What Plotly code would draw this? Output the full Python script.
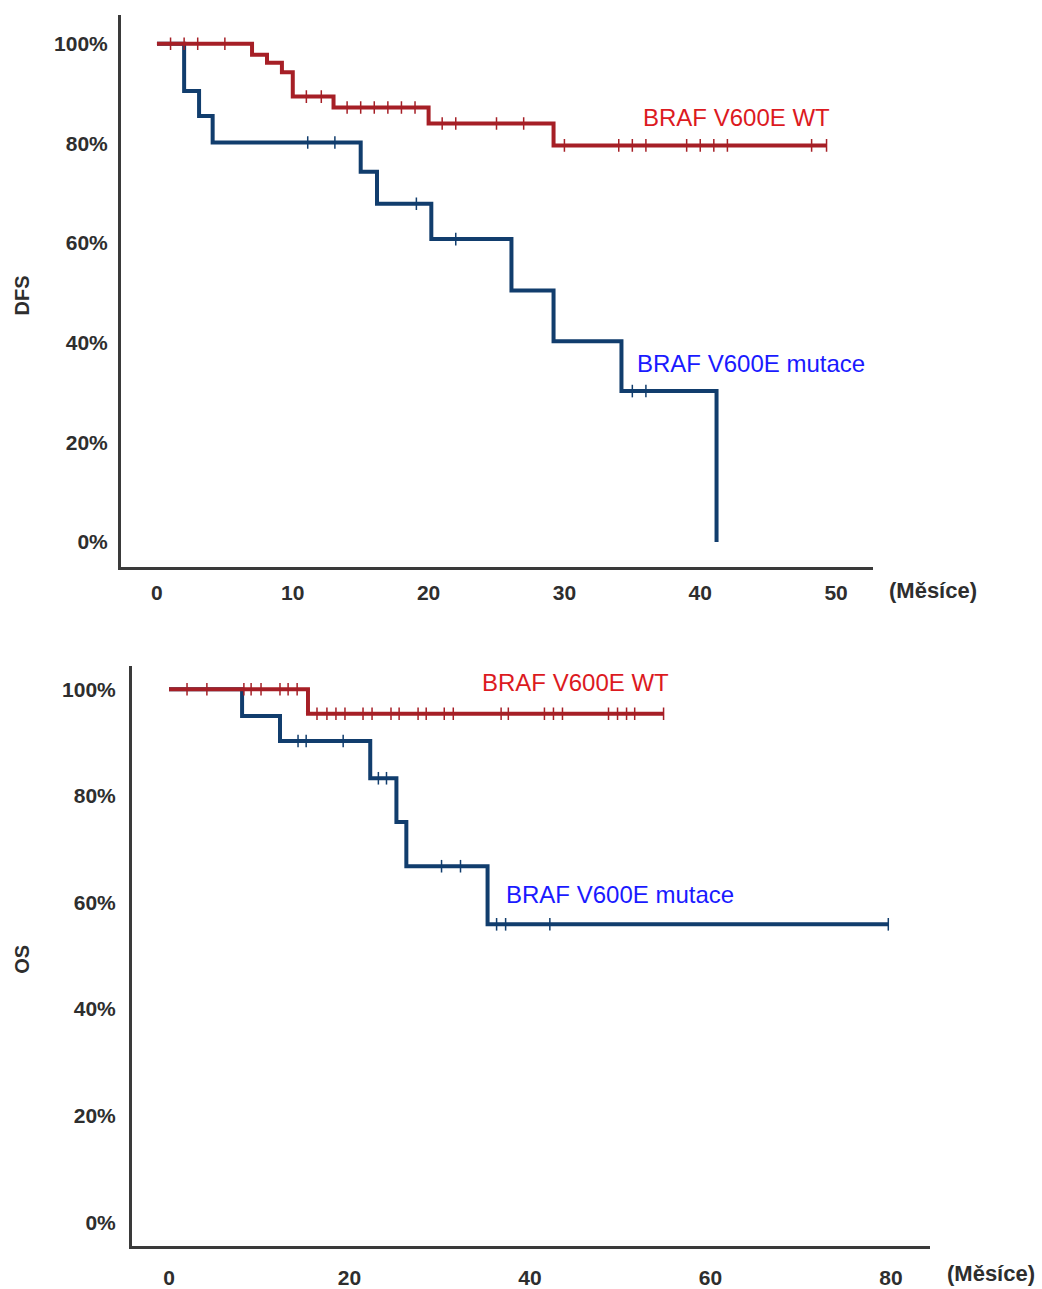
import plotly.graph_objects as go

# ---------------- DATA ----------------
# DFS (top panel)
wt_dfs_times = [0, 7.0, 8.1, 9.2, 10.0, 13.0, 20.0, 29.2, 49.3]
wt_dfs_surv = [100, 97.8, 96.2, 94.3, 89.4, 87.2, 84.0, 79.6, 79.6]
wt_dfs_censor = [1.0, 2.0, 3.0, 5.0, 11.0, 12.1, 14.0, 15.0, 16.0, 17.0, 18.0, 19.0,
                 21.0, 22.0, 25.0, 27.0, 30.0, 34.0, 35.0, 36.0, 39.0, 40.0, 41.0,
                 42.0, 48.2, 49.3]

mut_dfs_times = [0, 2.0, 3.1, 4.1, 15.0, 16.2, 20.2, 26.1, 29.2, 34.2, 41.2]
mut_dfs_surv = [100, 90.5, 85.5, 80.2, 74.3, 67.9, 60.8, 50.5, 40.3, 30.3, 0]
mut_dfs_censor = [11.1, 13.1, 19.1, 22.0, 35.0, 36.0]

# OS (bottom panel)
wt_os_times = [0, 15.4, 54.8]
wt_os_surv = [100, 95.4, 95.4]
wt_os_censor = [2.0, 4.2, 8.3, 9.1, 10.2, 12.3, 13.2, 14.2, 16.4, 17.5, 18.5, 19.5,
                21.5, 22.5, 24.6, 25.5, 27.6, 28.5, 30.5, 31.5, 36.8, 37.6, 41.6,
                42.6, 43.6, 48.7, 49.7, 50.7, 51.6, 54.8]

mut_os_times = [0, 8.1, 12.3, 22.3, 25.2, 26.3, 35.3, 79.7]
mut_os_surv = [100, 95.0, 90.3, 83.3, 75.1, 66.8, 55.9, 55.9]
mut_os_censor = [14.3, 15.2, 19.3, 23.2, 24.1, 30.2, 32.3, 36.3, 37.3, 42.2, 79.7]

dfs_xticks = [0, 10, 20, 30, 40, 50]
os_xticks = [0, 20, 40, 60, 80]
y_ticks = [0, 20, 40, 60, 80, 100]
y_ticklabels = ["0%", "20%", "40%", "60%", "80%", "100%"]

label_wt = "BRAF V600E WT"
label_mut = "BRAF V600E mutace"
x_unit = "(Měsíce)"

# ---------------- STYLE ----------------
RED = "#a61f26"
BLUE = "#113d6d"
RED_TXT = "#dc1a1f"
BLUE_TXT = "#1a1aff"
AX = "#3a3a3a"
TXT = "#2e2e2e"
FONT = "Liberation Sans, Arial, sans-serif"


def surv_at(times, surv, t):
    val = surv[0]
    for ti, si in zip(times, surv):
        if ti <= t:
            val = si
    return val


fig = go.Figure()


def add_curve(times, surv, censor, color, xa, ya):
    fig.add_trace(go.Scatter(x=times, y=surv, mode="lines", line=dict(color=color, width=4, shape="hv"),
                             xaxis=xa, yaxis=ya, showlegend=False, hoverinfo="skip"))
    fig.add_trace(go.Scatter(x=censor, y=[surv_at(times, surv, c) for c in censor], mode="markers",
                             marker=dict(symbol="line-ns-open", size=9, color=color,
                                         line=dict(color=color, width=1.5)),
                             xaxis=xa, yaxis=ya, showlegend=False, hoverinfo="skip"))


add_curve(mut_dfs_times, mut_dfs_surv, mut_dfs_censor, BLUE, "x", "y")
add_curve(wt_dfs_times, wt_dfs_surv, wt_dfs_censor, RED, "x", "y")
add_curve(mut_os_times, mut_os_surv, mut_os_censor, BLUE, "x2", "y2")
add_curve(wt_os_times, wt_os_surv, wt_os_censor, RED, "x2", "y2")

W, H = 1042, 1289


def px_x(p):
    return p / W


def px_y(p):
    return 1 - p / H


tickfont = dict(family=FONT, size=21, color=TXT)

common_x = dict(showgrid=False, zeroline=False, showline=True, linecolor=AX, linewidth=2.5,
                ticks="outside", ticklen=5, tickcolor="rgba(0,0,0,0)", tickfont=tickfont)
common_y = dict(showgrid=False, zeroline=False, showline=True, linecolor=AX, linewidth=2.5,
                ticks="outside", ticklen=6, tickcolor="rgba(0,0,0,0)", tickfont=tickfont,
                tickmode="array", tickvals=y_ticks,
                ticktext=["<b>%s</b>" % t for t in y_ticklabels])

fig.update_layout(
    width=W, height=H,
    margin=dict(l=0, r=0, t=0, b=0),
    paper_bgcolor="white", plot_bgcolor="white",
    xaxis=dict(common_x, domain=[px_x(120.7), px_x(873)], range=[-2.67, 52.72],
               tickmode="array", tickvals=dfs_xticks,
               ticktext=["<b>%d</b>" % t for t in dfs_xticks], anchor="y"),
    yaxis=dict(common_y, domain=[px_y(570), px_y(15)], range=[-4.99, 105.79], anchor="x"),
    xaxis2=dict(common_x, domain=[px_x(131.7), px_x(930)], range=[-4.13, 84.32],
                tickmode="array", tickvals=os_xticks,
                ticktext=["<b>%d</b>" % t for t in os_xticks], anchor="y2", ticklen=11),
    yaxis2=dict(common_y, domain=[px_y(1253), px_y(670)], range=[-4.48, 104.29], anchor="x2", ticklen=9),
)

ann = []


def add_text(x, y, text, color, size, bold=False, angle=0, xanchor="left"):
    ann.append(dict(x=px_x(x), y=px_y(y), xref="paper", yref="paper", showarrow=False,
                    text=("<b>%s</b>" % text) if bold else text, textangle=angle,
                    font=dict(family=FONT, size=size, color=color),
                    xanchor=xanchor, yanchor="middle"))


add_text(641, 118, label_wt, RED_TXT, 24)
add_text(635, 365, label_mut, BLUE_TXT, 24)
add_text(480, 686, label_wt, RED_TXT, 24)
add_text(504, 899, label_mut, BLUE_TXT, 24)
add_text(887, 594, x_unit, TXT, 22, bold=True)
add_text(945, 1280, x_unit, TXT, 22, bold=True)
add_text(22, 297, "DFS", TXT, 20, bold=True, angle=-90, xanchor="center")
add_text(22, 965, "OS", TXT, 20, bold=True, angle=-90, xanchor="center")

fig.update_layout(annotations=ann)

fig.write_html("out.html", config={"displayModeBar": False},
               post_script="document.body.style.margin='0px';document.body.style.overflow='hidden';")
